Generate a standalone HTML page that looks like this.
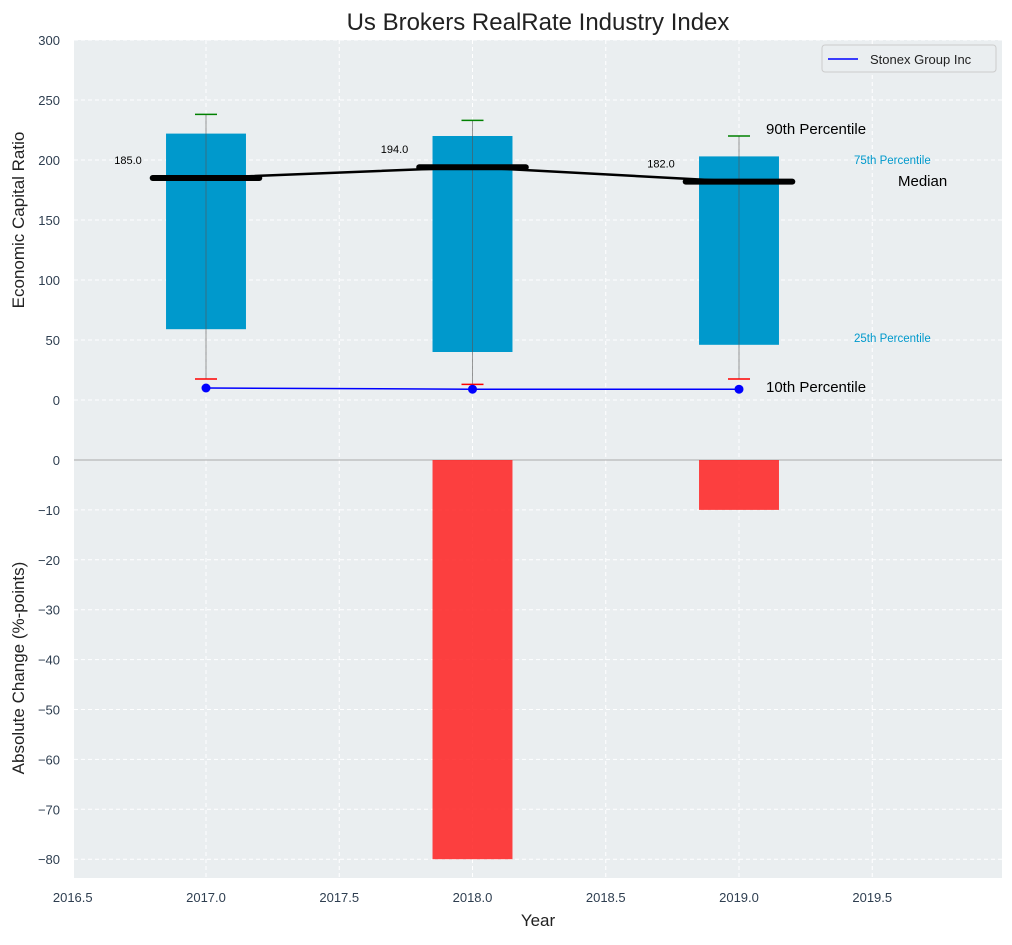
<!DOCTYPE html>
<html><head><meta charset="utf-8"><style>
body{margin:0;background:#fff;}
svg text{font-family:"Liberation Sans",Arial,sans-serif;}
</style></head><body>
<svg id="chart" width="1012" height="940" xmlns="http://www.w3.org/2000/svg"></svg>
<script>
const years=[2017,2018,2019];
const p10=[17.5,13,17.5];
const p25=[59,40,46];
const median=[185,194,182];
const p75=[222,220,203];
const p90=[238,233,220];
const company=[10,9,9];
const change=[0,-80,-10];
const topTicks=[0,50,100,150,200,250,300];
const botTicks=[0,-10,-20,-30,-40,-50,-60,-70,-80];
const xTicks=[2016.5,2017,2017.5,2018,2018.5,2019,2019.5];

const NS="http://www.w3.org/2000/svg";
const svg=document.getElementById('chart');
const L=74,R=1002;
const x=v=>72.75+(v-2016.5)*266.5;
const yT=v=>400-v*1.2;
const yB=v=>460-v*4.99;
function el(t,a,p){const e=document.createElementNS(NS,t);for(const k in a)e.setAttribute(k,a[k]);(p||svg).appendChild(e);return e;}
function tx(s,a){const e=el('text',a);e.textContent=s;return e;}

let bg=el('rect',{x:L,y:40,width:R-L,height:420,fill:'#eaeef0'});

let bg2=el('rect',{x:L,y:460,width:R-L,height:418,fill:'#eaeef0'});


xTicks.forEach(t=>{
 el('line',{x1:x(t),x2:x(t),y1:40,y2:878,stroke:'#fff','stroke-dasharray':'4,3','stroke-width':1});
 let l=tx(t.toFixed(1),{x:x(t),y:902,'text-anchor':'middle','font-size':13,fill:'#2e3e50'});
 
});
topTicks.forEach(t=>{
 el('line',{x1:L,x2:R,y1:yT(t),y2:yT(t),stroke:'#fff','stroke-dasharray':'4,3'});
 let l=tx(String(t),{x:60,y:yT(t)+5,'text-anchor':'end','font-size':13,fill:'#2e3e50'});
 
});
botTicks.forEach(t=>{
 if(t!==0)el('line',{x1:L,x2:R,y1:yB(t),y2:yB(t),stroke:'#fff','stroke-dasharray':'4,3'});
 let l=tx(String(t).replace('-','\u2212'),{x:60,y:yB(t)+5,'text-anchor':'end','font-size':13,fill:'#2e3e50'});
 
});
el('line',{x1:L,x2:R,y1:460,y2:460,stroke:'#aaa','stroke-width':1});

years.forEach((yr,i)=>{
 let b=el('rect',{x:x(yr-0.15),y:yT(p75[i]),width:x(yr+0.15)-x(yr-0.15),height:yT(p25[i])-yT(p75[i]),fill:'#0099cc'});
 
 el('line',{x1:x(yr),x2:x(yr),y1:yT(p90[i]),y2:yT(p10[i]),stroke:'#555','stroke-opacity':0.6,'stroke-width':1});
 el('line',{x1:x(yr)-11,x2:x(yr)+11,y1:yT(p90[i]),y2:yT(p90[i]),stroke:'green','stroke-width':1.5});
 el('line',{x1:x(yr)-11,x2:x(yr)+11,y1:yT(p10[i]),y2:yT(p10[i]),stroke:'red','stroke-width':1.5});
 let c=el('rect',{x:x(yr-0.15),y:yB(Math.max(0,change[i])),width:x(yr+0.15)-x(yr-0.15),height:Math.abs(yB(change[i])-yB(0)),fill:'#ff2020','fill-opacity':0.85});
 
});
el('polyline',{points:years.map((yr,i)=>x(yr)+','+yT(median[i])).join(' '),fill:'none',stroke:'#000','stroke-width':2.5});
years.forEach((yr,i)=>{
 let m=el('line',{x1:x(yr-0.2),x2:x(yr+0.2),y1:yT(median[i]),y2:yT(median[i]),stroke:'#000','stroke-width':6,'stroke-linecap':'round'});
 
 let ml=tx(median[i].toFixed(1),{x:x(yr)-78,y:yT(median[i])-14,'text-anchor':'middle','font-size':11,fill:'#000'});
 
});
el('polyline',{points:years.map((yr,i)=>x(yr)+','+yT(company[i])).join(' '),fill:'none',stroke:'#0000ff','stroke-width':1.5});
years.forEach((yr,i)=>{let p=el('circle',{cx:x(yr),cy:yT(company[i]),r:4.5,fill:'#0000ff'});});

tx('90th Percentile',{x:766,y:134,'font-size':15,fill:'#000'});
tx('75th Percentile',{x:854,y:164,'font-size':11.5,fill:'#0099cc'});
tx('Median',{x:898,y:186,'font-size':15,fill:'#000'});
tx('25th Percentile',{x:854,y:342,'font-size':11.5,fill:'#0099cc'});
tx('10th Percentile',{x:766,y:392,'font-size':15,fill:'#000'});

let lg=el('g',{});
el('rect',{x:822,y:45,width:174,height:27,fill:'#eaeef0',stroke:'#ccc',rx:3},lg);
el('line',{x1:828,x2:858,y1:59,y2:59,stroke:'#0000ff','stroke-width':1.5},lg);
let lt=el('text',{x:870,y:64,'font-size':13,fill:'#222'},lg);lt.textContent='Stonex Group Inc';

let t=tx('Us Brokers RealRate Industry Index',{x:538,y:30,'text-anchor':'middle','font-size':24,fill:'#222'});

let xl=tx('Year',{x:538,y:926,'text-anchor':'middle','font-size':17,fill:'#222'});

let y1=tx('Economic Capital Ratio',{x:0,y:0,'text-anchor':'middle','font-size':17,fill:'#222',transform:'translate(24,220) rotate(-90)'});

let y2=tx('Absolute Change (%-points)',{x:0,y:0,'text-anchor':'middle','font-size':17,fill:'#222',transform:'translate(24,668) rotate(-90)'});

</script>
</body></html>
